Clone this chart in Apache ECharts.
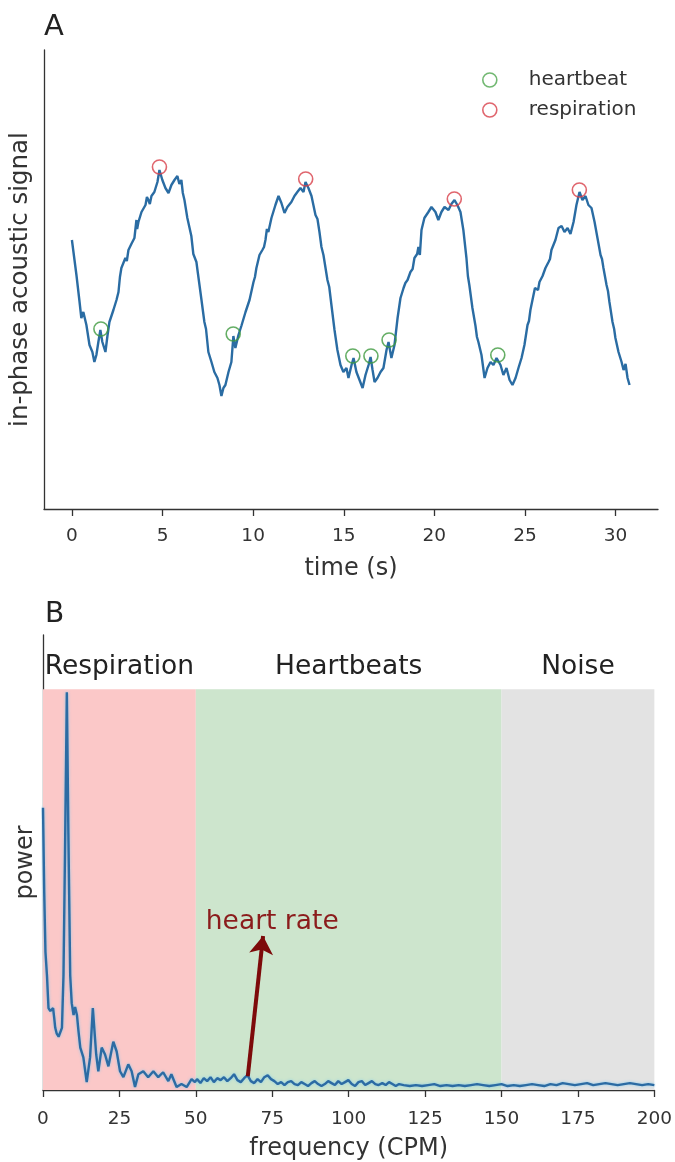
<!DOCTYPE html>
<html>
<head>
<meta charset="utf-8">
<script src="https://cdn.jsdelivr.net/npm/echarts@6/dist/echarts.min.js"></script>
<style>
html,body{margin:0;padding:0;background:#fff;}
#chart{width:675px;height:1162px;}
</style>
</head>
<body>
<div id="chart"></div>
<script>
// ---------- Panel A: in-phase acoustic signal ----------
const time = [
0,0.25,0.41,0.52,0.63,0.80,0.97,1.13,1.24,1.35,
1.46,1.57,1.68,1.85,1.96,2.07,2.29,2.46,2.57,2.65,2.73,
2.95,3.03,3.12,3.28,3.45,3.56,3.60,3.67,3.84,4.06,4.14,4.22,4.30,4.39,4.55,
4.72,4.83,4.99,5.16,5.33,5.49,5.66,5.82,5.93,6.04,6.12,
6.21,6.37,6.59,6.70,6.87,6.95,7.15,7.31,7.40,7.53,7.70,7.86,8.03,
8.14,8.25,8.36,8.47,8.64,8.80,8.91,9.02,9.19,9.35,
9.58,9.80,10.02,10.10,10.18,10.35,10.51,10.60,10.68,10.76,10.84,11.01,11.12,11.23,
11.40,11.56,11.73,11.89,12.11,12.28,12.44,12.61,12.78,12.89,
13.05,13.22,13.44,13.55,13.66,13.77,13.88,14.10,14.20,14.32,14.49,14.65,14.82,
14.98,15.15,15.26,15.43,15.54,15.70,15.87,16.04,16.20,16.37,
16.48,16.59,16.70,16.86,17.03,17.19,17.36,17.47,17.63,17.80,
17.97,18.13,18.30,18.40,18.52,18.68,18.80,18.90,19.05,19.12,19.20,19.29,19.45,19.55,19.67,
19.84,20.06,20.22,20.39,20.56,20.78,20.94,21.11,21.27,21.44,
21.60,21.77,21.85,21.93,22.10,22.27,22.35,22.43,22.60,22.77,22.93,23.10,
23.26,23.43,23.54,23.65,23.81,23.98,24.15,24.31,24.48,24.64,
24.81,24.97,25.14,25.22,25.30,25.47,25.55,25.63,25.72,25.80,25.97,26.05,26.13,26.30,26.38,
26.46,26.68,26.85,27.02,27.18,27.35,27.51,27.68,27.84,28.01,
28.17,28.34,28.50,28.67,28.84,29.00,29.17,29.25,29.33,29.50,29.58,29.66,
29.83,29.92,29.99,30.16,30.33,30.44,30.55,30.66,30.77];
const signal = [
269,234,209,191,197,184,164,157,147,154,
167,179,167,157,173,187,199,209,217,232,241,
251,248,259,265,271,289,280,287,297,304,312,309,305,313,317,
327,339,329,321,316,324,329,333,325,329,316,
309,291,273,255,247,236,209,187,180,157,147,137,131,
124,113,121,124,137,147,173,161,174,183,
197,209,227,232,241,254,259,262,269,280,277,291,292,304,
313,306,296,302,307,313,317,321,317,327,
321,313,294,290,277,262,254,229,222,204,179,159,144,
137,141,131,144,151,137,129,121,134,144,
152,139,127,131,137,141,159,167,151,164,
191,211,221,226,229,237,240,251,255,262,254,279,291,290,297,
302,297,289,297,302,299,305,309,304,297,
279,251,233,224,201,183,172,167,154,131,141,147,
144,151,153,144,134,141,129,124,131,141,
151,164,184,188,199,214,221,221,219,227,233,231,241,247,250,
259,269,281,283,277,281,275,287,304,317,
309,313,304,301,287,271,254,250,241,224,218,207,
187,180,171,157,147,139,145,131,124];
const heartbeatTime = [1.6, 8.9, 15.5, 16.5, 17.5, 23.5];
const heartbeatValue = [180, 175, 153, 153, 169, 154];
const respirationTime = [4.83, 12.9, 21.1, 28.0];
const respirationValue = [342, 330, 310, 319];
const timeTicks = [0, 5, 10, 15, 20, 25, 30];

// ---------- Panel B: power spectrum ----------
const freq = [0,0.4,0.8,1.3,1.8,2.4,2.9,3.3,3.7,4.0,
4.5,5.1,5.6,6.2,6.7,7.2,7.8,8.3,8.9,9.4,
10.0,10.5,11.1,11.6,12.2,13.2,14.3,15.4,16.3,17.4,
18.1,19.2,20.3,21.4,23.0,24.1,25.2,26.3,27.9,29.0,
30.1,31.2,32.8,34.4,36.1,37.7,39.3,41.0,42.0,43.7,
45.3,47.0,48.6,49.7,
50.4,51.5,52.6,53.7,54.8,55.9,57.0,58.1,59.2,60.3,
61.4,62.5,63.6,64.7,65.8,66.9,68.0,69.1,70.2,71.3,
72.4,73.5,74.6,75.7,76.8,77.9,79.0,80.1,81.2,82.3,
83.4,84.5,85.6,86.7,87.8,88.9,90.0,91.1,92.2,93.3,
94.4,95.5,96.6,97.7,98.8,99.9,101.0,102.1,103.2,104.3,
105.4,106.5,107.6,108.7,109.8,111.0,112.1,113.2,114.3,115.4,
116.5,
118,120,122,124,126,128,130,132,134,136,
138,140,142,144,146,148,150,152,154,156,
158,160,162,164,166,168,170,172,174,176,
178,180,182,184,186,188,190,192,194,196,
198,200];
const power = [286,200,140,116,83,80,79,83,72,63,
57,54,56,63,116,240,403,260,116,88,
76,84,76,60,43,33,8,33,83,36,
19,43,36,24,49,39,19,13,26,19,
3,16,19,13,19,13,18,9,16,3,
6,3,11,8,
11,7,12,9,13,8,12,10,13,9,
12,16,10,8,12,15,9,7,11,8,
13,15,11,9,6,8,5,8,9,6,
5,8,6,4,7,9,6,4,6,9,
7,5,9,6,8,10,6,4,8,9,
5,7,9,6,5,7,5,8,6,4,
6,
5,4,5,4,5,6,4,5,4,5,
4,5,6,5,4,5,6,4,5,4,
5,6,5,4,6,5,7,6,5,6,
7,5,6,7,6,5,6,7,6,5,
6,5];
const bandNames = ['Respiration', 'Heartbeats', 'Noise'];
const bandStart = [0, 50, 150];
const bandEnd = [50, 150, 200];
const bandTop = 406;
const arrowFrom = [67, 14];
const arrowTo = [72, 156];
const heartRateLabelAt = [75, 170];

// ---------- styles ----------
const FONT = 'DejaVu Sans';
const AX = '#333333';
const bandColors = ['#fbc8c8', '#cde5cd', '#e3e3e3'];

const chart = echarts.init(document.getElementById('chart'), null, {renderer: 'canvas'});

const zip = (a, b) => a.map((v, i) => [v, b[i]]);

const option = {
  animation: false,
  backgroundColor: '#ffffff',
  textStyle: {fontFamily: FONT},
  title: [
    {text: 'A', left: 44, top: 13, padding: 0, textStyle: {fontSize: 29, fontWeight: 'normal', color: '#222', fontFamily: FONT}},
    {text: 'B', left: 45, top: 601, padding: 0, textStyle: {fontSize: 28, fontWeight: 'normal', color: '#222', fontFamily: FONT}}
  ],
  legend: {
    orient: 'vertical',
    left: 477,
    top: 65,
    itemWidth: 68,
    itemHeight: 14,
    itemGap: 10,
    textStyle: {fontSize: 20, color: '#333', fontFamily: FONT},
    data: [
      {name: 'heartbeat', icon: 'circle', itemStyle: {color: 'rgba(0,0,0,0)', borderColor: '#4fa64f', borderWidth: 1.6}},
      {name: 'respiration', icon: 'circle', itemStyle: {color: 'rgba(0,0,0,0)', borderColor: '#d8404a', borderWidth: 1.6}}
    ]
  },
  grid: [
    {left: 42, top: 50, width: 616, height: 459},
    {left: 43, top: 635, width: 613, height: 461}
  ],
  xAxis: [
    {
      type: 'value', gridIndex: 0, min: -1.54, max: 32.34,
      axisLine: {show: true, onZero: false, lineStyle: {color: AX, width: 1.3}},
      axisTick: {show: true, customValues: timeTicks, length: 7, lineStyle: {color: AX, width: 1.3}},
      axisLabel: {show: true, customValues: timeTicks, fontSize: 18.5, color: AX, margin: 18, fontFamily: FONT},
      splitLine: {show: false},
      name: 'time (s)', nameLocation: 'middle', nameGap: 48,
      nameTextStyle: {fontSize: 24, color: AX, fontFamily: FONT}
    },
    {
      type: 'value', gridIndex: 1, min: 0, max: 200, interval: 25,
      axisLine: {show: true, onZero: false, lineStyle: {color: AX, width: 1.3}},
      axisTick: {show: true, length: 7, lineStyle: {color: AX, width: 1.3}},
      axisLabel: {show: true, fontSize: 18.5, color: AX, margin: 20, fontFamily: FONT},
      splitLine: {show: false},
      name: 'frequency (CPM)', nameLocation: 'middle', nameGap: 47,
      nameTextStyle: {fontSize: 24, color: AX, fontFamily: FONT}
    }
  ],
  yAxis: [
    {
      type: 'value', gridIndex: 0, min: 0, max: 459,
      axisLine: {show: true, onZero: false, lineStyle: {color: AX, width: 1.3}},
      axisTick: {show: false}, axisLabel: {show: false}, splitLine: {show: false},
      name: 'in-phase acoustic signal', nameLocation: 'middle', nameGap: 11, nameRotate: 90,
      nameTextStyle: {fontSize: 24.5, color: AX, fontFamily: FONT}
    },
    {
      type: 'value', gridIndex: 1, min: 0, max: 461,
      axisLine: {show: true, onZero: false, lineStyle: {color: AX, width: 1.3}},
      axisTick: {show: false}, axisLabel: {show: false}, splitLine: {show: false},
      name: 'power', nameLocation: 'middle', nameGap: 5, nameRotate: 90,
      nameTextStyle: {fontSize: 24, color: AX, fontFamily: FONT}
    }
  ],
  series: [
    {
      name: 'signal', type: 'line', xAxisIndex: 0, yAxisIndex: 0,
      data: zip(time, signal), showSymbol: false, symbol: 'none', z: 2,
      lineStyle: {color: '#2a6ca3', width: 2.4}
    },
    {
      name: 'heartbeat', type: 'scatter', xAxisIndex: 0, yAxisIndex: 0,
      data: zip(heartbeatTime, heartbeatValue), symbol: 'circle', symbolSize: 14, z: 4,
      itemStyle: {color: 'rgba(0,0,0,0)', borderColor: '#3f9a3f', borderWidth: 1.6}
    },
    {
      name: 'respiration', type: 'scatter', xAxisIndex: 0, yAxisIndex: 0,
      data: zip(respirationTime, respirationValue), symbol: 'circle', symbolSize: 14, z: 4,
      itemStyle: {color: 'rgba(0,0,0,0)', borderColor: '#d8404a', borderWidth: 1.6}
    },
    {
      name: 'bands', type: 'line', xAxisIndex: 1, yAxisIndex: 1, data: [], z: 1, silent: true,
      markArea: {
        silent: true,
        data: bandNames.map((n, i) => [
          {name: n, xAxis: bandStart[i], yAxis: 0, itemStyle: {color: bandColors[i], opacity: 1}},
          {xAxis: bandEnd[i], yAxis: bandTop}
        ]),
        label: {show: true, position: 'top', distance: 9, fontSize: 26.5, color: '#222', fontFamily: FONT}
      }
    },
    {
      name: 'spectrum', type: 'line', xAxisIndex: 1, yAxisIndex: 1,
      data: zip(freq, power), showSymbol: false, symbol: 'none', z: 3,
      lineStyle: {color: '#2c6ba3', width: 2.4, shadowColor: 'rgba(120,200,240,0.8)', shadowBlur: 3}
    },
    {
      name: 'annot', type: 'line', xAxisIndex: 1, yAxisIndex: 1, data: [], z: 5, silent: true,
      markLine: {
        silent: true,
        symbol: ['none', 'arrow'],
        symbolSize: 18,
        lineStyle: {color: '#7d0a0a', width: 4, type: 'solid'},
        label: {show: false},
        data: [[{coord: arrowFrom}, {coord: arrowTo}]]
      },
      markPoint: {
        silent: true,
        symbol: 'circle', symbolSize: 1,
        itemStyle: {color: 'rgba(0,0,0,0)'},
        label: {show: true, position: 'inside', formatter: 'heart rate', fontSize: 26.5, color: '#8b1c1c', fontFamily: FONT},
        data: [{coord: heartRateLabelAt}]
      }
    }
  ]
};
chart.setOption(option);
</script>
</body>
</html>
